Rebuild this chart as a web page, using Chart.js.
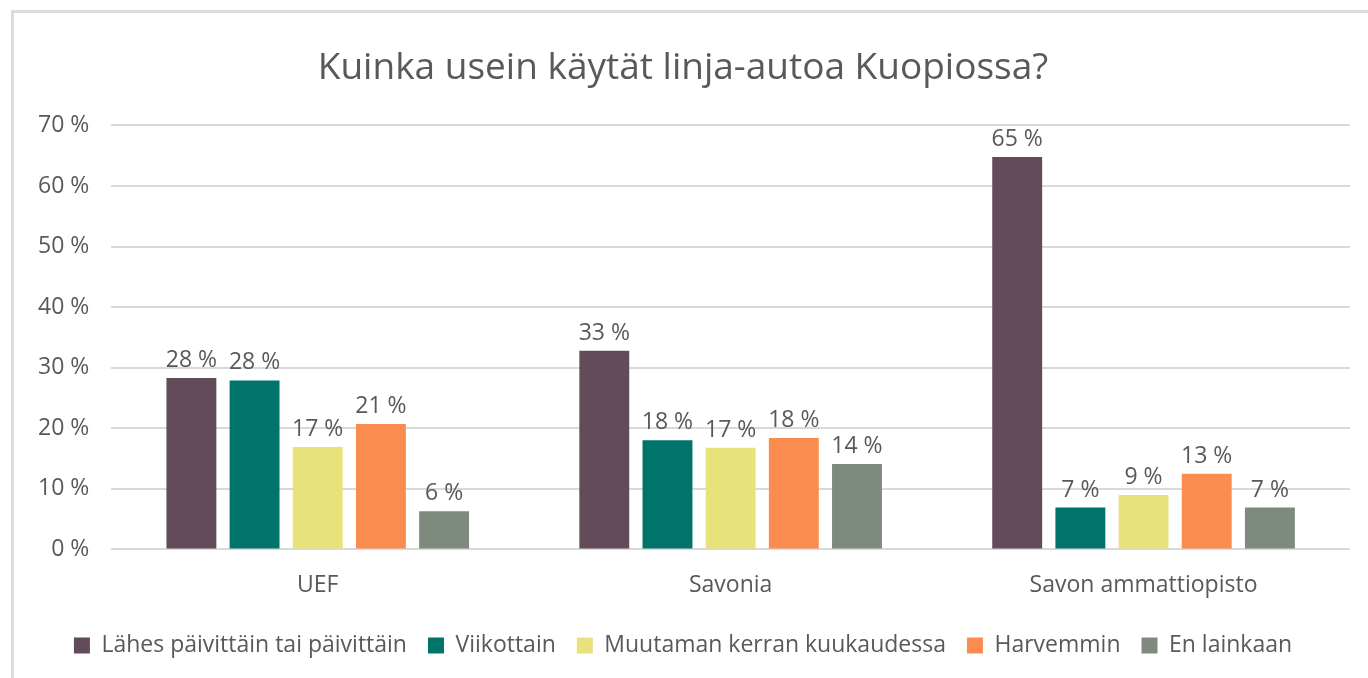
<!DOCTYPE html>
<html>
<head>
<meta charset="utf-8">
<script src="https://cdn.jsdelivr.net/npm/chart.js@4"></script>
<style>
  html, body { margin: 0; padding: 0; background: #fff; }
  #wrap { position: relative; width: 1368px; height: 678px; overflow: hidden; }
  #frame { position: absolute; left: 11px; top: 10px; right: -10px; bottom: -10px;
           border-left: 3px solid #dcdcdc; border-top: 3px solid #dcdcdc; }
  #c { position: absolute; left: 0; top: 0; }
</style>
</head>
<body>
<div id="wrap">
  <div id="frame"></div>
  <canvas id="c" width="1368" height="678"></canvas>
</div>
<script>
// Kuinka usein käytät linja-autoa Kuopiossa?
const kategoriat = ['UEF', 'Savonia', 'Savon ammattiopisto'];
const lahesPaivittain = [28.3, 32.8, 64.8];
const viikottain = [27.9, 18.0, 6.9];
const muutamanKerran = [16.9, 16.8, 9.0];
const harvemmin = [20.7, 18.4, 12.5];
const enLainkaan = [6.3, 14.1, 6.9];
const yTicks = [0, 10, 20, 30, 40, 50, 60, 70];

const fontti = '"Open Sans", "Noto Sans", sans-serif';
const harmaa = '#595959';

// arvot palkkien päälle
const arvoLabelit = {
  id: 'arvoLabelit',
  afterDatasetsDraw(chart) {
    const ctx = chart.ctx;
    ctx.save();
    ctx.font = '23px ' + fontti;
    ctx.fillStyle = harmaa;
    ctx.textAlign = 'center';
    ctx.textBaseline = 'bottom';
    chart.data.datasets.forEach((ds, i) => {
      chart.getDatasetMeta(i).data.forEach((bar, j) => {
        ctx.fillText(Math.round(ds.data[j]) + ' %', bar.x, bar.y - 6);
      });
    });
    ctx.restore();
  }
};

const sarja = (label, data, color) => ({
  label, data,
  backgroundColor: color,
  borderWidth: 0,
  categoryPercentage: 0.765,
  barPercentage: 0.79
});

new Chart(document.getElementById('c'), {
  type: 'bar',
  data: {
    labels: kategoriat,
    datasets: [
      sarja('Lähes päivittäin tai päivittäin', lahesPaivittain, '#634b5a'),
      sarja('Viikottain', viikottain, '#00736a'),
      sarja('Muutaman kerran kuukaudessa', muutamanKerran, '#e8e27a'),
      sarja('Harvemmin', harvemmin, '#fb8c4f'),
      sarja('En lainkaan', enLainkaan, '#7e8a7e')
    ]
  },
  options: {
    responsive: false,
    animation: false,
    layout: { padding: { left: 16, right: 18, top: 0, bottom: 11 } },
    plugins: {
      title: {
        display: true,
        text: 'Kuinka usein käytät linja-autoa Kuopiossa?',
        color: harmaa,
        font: { family: fontti, size: 37, weight: 'normal' },
        padding: { top: 46, bottom: 35 }
      },
      legend: {
        position: 'bottom',
        labels: {
          color: harmaa,
          font: { family: fontti, size: 23 },
          boxWidth: 16, boxHeight: 16,
          padding: 21
        }
      },
      tooltip: { enabled: false }
    },
    scales: {
      x: {
        grid: { display: false },
        border: { display: false },
        ticks: { color: harmaa, font: { family: fontti, size: 23 }, padding: 14 }
      },
      y: {
        min: 0, max: 70,
        afterBuildTicks: axis => { axis.ticks = yTicks.map(v => ({ value: v })); },
        grid: { color: '#d9d9d9', lineWidth: 2, drawTicks: false },
        border: { display: false },
        ticks: { color: harmaa, font: { family: fontti, size: 23 }, padding: 22,
                 callback: v => v + ' %' }
      }
    }
  },
  plugins: [arvoLabelit]
});
</script>
</body>
</html>
